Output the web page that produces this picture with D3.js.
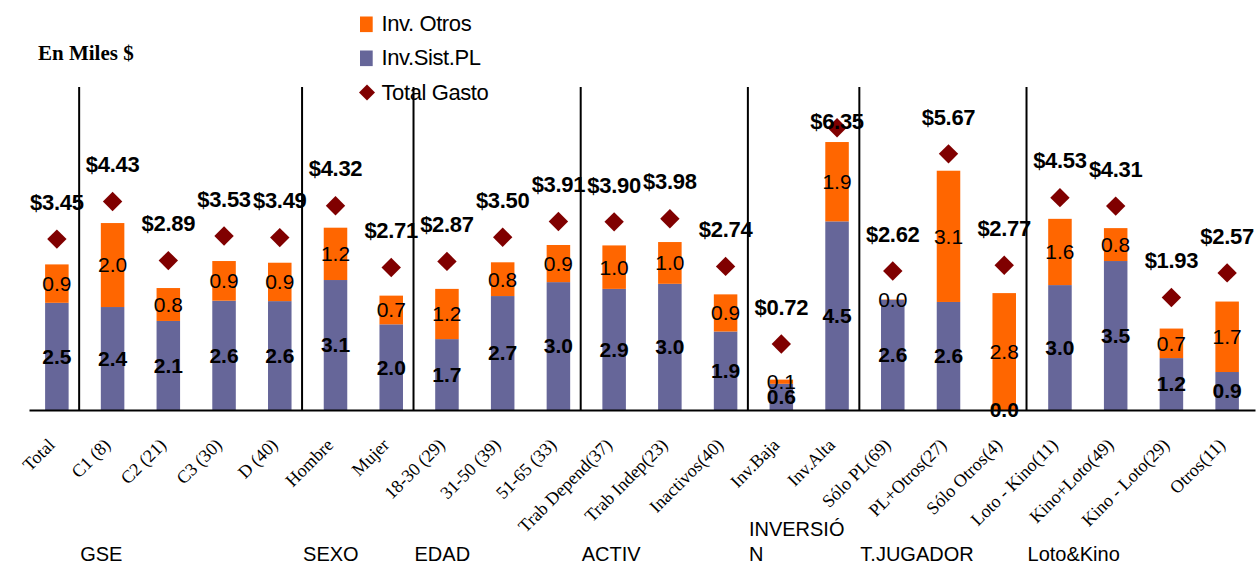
<!DOCTYPE html>
<html>
<head>
<meta charset="utf-8">
<script src="https://cdn.jsdelivr.net/npm/d3@7"></script>
<style>
  body { margin: 0; background: #fff; }
  svg { display: block; }
</style>
</head>
<body>
<svg id="chart" width="1258" height="564"></svg>
<script>
// ---- data (miles de $) ----
const categories = [
  "Total", "C1 (8)", "C2 (21)", "C3 (30)", "D (40)", "Hombre", "Mujer",
  "18-30 (29)", "31-50 (39)", "51-65 (33)", "Trab Depend(37)", "Trab Indep(23)",
  "Inactivos(40)", "Inv.Baja", "Inv.Alta", "Sólo PL(69)", "PL+Otros(27)",
  "Sólo Otros(4)", "Loto - Kino(11)", "Kino+Loto(49)", "Kino - Loto(29)", "Otros(11)"
];
const invSistPL = [2.54, 2.44, 2.11, 2.59, 2.58, 3.08, 2.03, 1.68, 2.70, 3.03, 2.87,
                   2.99, 1.86, 0.62, 4.47, 2.61, 2.56, 0.00, 2.96, 3.53, 1.23, 0.90];
const invOtros  = [0.91, 1.99, 0.78, 0.94, 0.91, 1.24, 0.68, 1.19, 0.80, 0.88, 1.03,
                   0.99, 0.88, 0.10, 1.88, 0.01, 3.11, 2.77, 1.57, 0.78, 0.70, 1.67];
const totalGasto = [3.45, 4.43, 2.89, 3.53, 3.49, 4.32, 2.71, 2.87, 3.50, 3.91, 3.90,
                    3.98, 2.74, 0.72, 6.35, 2.62, 5.67, 2.77, 4.53, 4.31, 1.93, 2.57];

// segment groups and the first category of each one
const groupNames = ["GSE", "SEXO", "EDAD", "ACTIV", "INVERSIÓN", "T.JUGADOR", "Loto&Kino"];
const groupFirst = ["C1 (8)", "Hombre", "18-30 (29)", "Trab Depend(37)", "Inv.Baja",
                    "Sólo PL(69)", "Loto - Kino(11)"];

const seriesNames = { otros: "Inv. Otros", pl: "Inv.Sist.PL", total: "Total Gasto" };
const unitLabel = "En Miles $";

// ---- styles ----
const colors = { otros: "#FF6600", pl: "#666699", total: "#800000" };
const SANS = "'Liberation Sans', Arial, Helvetica, sans-serif";
const SERIF = "'Liberation Serif', 'Times New Roman', serif";

const svg = d3.select("#chart");
const baseY = 410;

// ---- scales ----
const x = d3.scaleBand().domain(categories).range([29, 1255])
  .paddingInner(0.578).paddingOuter(0.289);
const cx = c => x(c) + x.bandwidth() / 2;
const y = d3.scaleLinear().domain([0, 7]).range([baseY, 114.6]);      // bars
const y2 = d3.scaleLinear().domain([0, 7]).range([371.6, 102.8]);     // total gasto (secondary)

const rows = categories.map((c, i) => ({ cat: c, pl: invSistPL[i], otros: invOtros[i], total: totalGasto[i] }));
const layers = d3.stack().keys(["pl", "otros"])(rows);
const fmt1 = d3.format(".1f");
const fmtMoney = d3.format("$.2f");

// ---- stacked bars ----
const barG = svg.append("g");
layers.forEach(layer => {
  barG.append("g").attr("fill", colors[layer.key])
    .selectAll("rect").data(layer).join("rect")
    .attr("x", d => x(d.data.cat))
    .attr("width", x.bandwidth())
    .attr("y", d => y(d[1]))
    .attr("height", d => Math.max(0, y(d[0]) - y(d[1])));
});

// ---- x axis ----
const xAxis = svg.append("g")
  .attr("transform", `translate(0,${baseY})`)
  .call(d3.axisBottom(x).tickSize(0).tickSizeOuter(0));
xAxis.select(".domain").attr("stroke", "#000").attr("stroke-width", 2);
xAxis.selectAll(".tick text")
  .attr("font-family", SERIF)
  .attr("font-size", 18)
  .attr("fill", "#000")
  .attr("x", 0).attr("y", 0).attr("dy", 0)
  .attr("text-anchor", "end")
  .attr("transform", "translate(-1,36) rotate(-45)");

// ---- segment labels ----
const labelG = svg.append("g").attr("font-family", SANS).attr("fill", "#000").attr("text-anchor", "middle");
layers.forEach(layer => {
  labelG.append("g")
    .attr("font-size", 21)
    .attr("font-weight", layer.key === "pl" ? "bold" : "normal")
    .selectAll("text").data(layer).join("text")
    .attr("x", d => cx(d.data.cat))
    .attr("y", d => y((d[0] + d[1]) / 2))
    .attr("dy", "0.35em")
    .text(d => fmt1(d.data[layer.key]));
});

// ---- total gasto markers ----
const dHalf = 9.7;
const diamond = h => `M0,${-h}L${h},0L0,${h}L${-h},0Z`;
svg.append("g").selectAll("path").data(rows).join("path")
  .attr("d", diamond(dHalf))
  .attr("fill", colors.total)
  .attr("transform", d => `translate(${cx(d.cat)},${y2(d.total)})`);

svg.append("g").attr("font-family", SANS).attr("font-size", 22).attr("font-weight", "bold")
  .attr("text-anchor", "middle").attr("letter-spacing", -0.3)
  .selectAll("text").data(rows).join("text")
  .attr("x", d => cx(d.cat))
  .attr("y", d => {
    const py = y2(d.total);
    return py - 37 < 105 ? py - 6 : py - 37;
  })
  .attr("dy", "0.35em")
  .text(d => fmtMoney(d.total));

// ---- unit label ----
svg.append("text").attr("x", 38).attr("y", 60)
  .attr("font-family", SERIF).attr("font-size", 21).attr("font-weight", "bold")
  .text(unitLabel);

// ---- legend ----
const legend = svg.append("g").attr("transform", "translate(360,0)");
[["otros", 31], ["pl", 65]].forEach(([k, by]) => {
  legend.append("rect").attr("x", 0).attr("y", by - 14.5).attr("width", 12.7).attr("height", 15.6)
    .attr("fill", colors[k]);
  legend.append("text").attr("x", 21.5).attr("y", by)
    .attr("font-family", SANS).attr("font-size", 22).attr("letter-spacing", -0.4)
    .text(seriesNames[k]);
});
legend.append("path").attr("d", diamond(8)).attr("fill", colors.total)
  .attr("transform", "translate(7,92.5)");
legend.append("text").attr("x", 21.5).attr("y", 100)
  .attr("font-family", SANS).attr("font-size", 22).attr("letter-spacing", -0.4)
  .text(seriesNames.total);

// ---- group separators and names ----
const sepXs = groupFirst.map(c => {
  const i = categories.indexOf(c);
  return cx(categories[i - 1]) + 0.4 * x.step();
});
const sepG = svg.append("g").attr("stroke", "#000").attr("stroke-width", 2);
sepXs.forEach(sx => {
  sepG.append("line").attr("x1", sx).attr("x2", sx).attr("y1", 87).attr("y2", baseY);
});

const groupG = svg.append("g").attr("font-family", SANS).attr("font-size", 20).attr("fill", "#000");
groupNames.forEach((name, gi) => {
  const left = sepXs[gi] + 1;
  const right = gi + 1 < sepXs.length ? sepXs[gi + 1] : 1255;
  const maxW = right - left - 6;
  // break the name by characters where it does not fit the segment width
  const probe = groupG.append("text").attr("x", left).attr("y", -100);
  const lines = [];
  let cur = "";
  for (const ch of name) {
    probe.text(cur + ch);
    if (cur && probe.node().getComputedTextLength() > maxW) {
      lines.push(cur);
      cur = ch;
    } else {
      cur += ch;
    }
  }
  lines.push(cur);
  probe.remove();
  const lastBase = 561, lh = 25;
  lines.forEach((ln, li) => {
    groupG.append("text").attr("x", left)
      .attr("y", lastBase - (lines.length - 1 - li) * lh)
      .text(ln);
  });
});
</script>
</body>
</html>
